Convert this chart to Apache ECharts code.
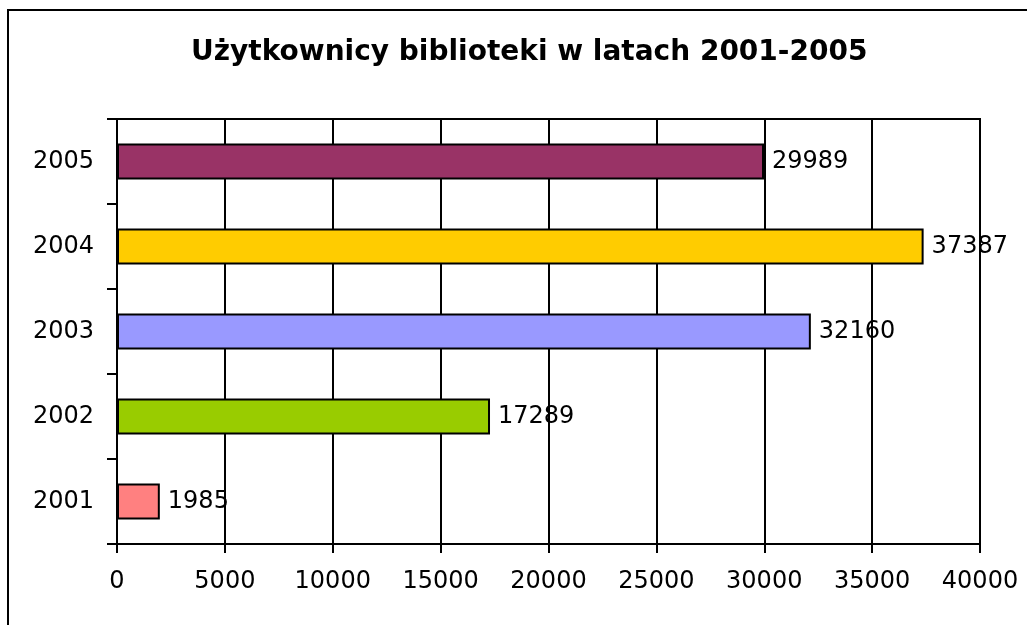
<!DOCTYPE html>
<html lang="pl">
<head>
    <meta charset="UTF-8">
    <title>Użytkownicy biblioteki</title>
    <script src="https://cdn.jsdelivr.net/npm/echarts@6/dist/echarts.min.js"></script>
    <style>
        html, body { margin: 0; padding: 0; background: #fff; }
        #main { width: 1027px; height: 625px; }
    </style>
</head>
<body>
<div id="main"></div>
<script>
    var years = ['2001', '2002', '2003', '2004', '2005'];
    var users = [1985, 17289, 32160, 37387, 29989];
    var barColors = ['#FF8080', '#99CC00', '#9999FF', '#FFCC00', '#993366'];
    var xTicks = { min: 0, max: 40000, step: 5000 };

    var chart = echarts.init(document.getElementById('main'));

    var font = 'DejaVu Sans';

    chart.setOption({
        backgroundColor: '#fff',
        animation: false,
        title: {
            text: 'Użytkownicy biblioteki w latach 2001-2005',
            left: 186,
            top: 34,
            textStyle: {
                fontFamily: font,
                fontWeight: 'bold',
                fontSize: 28,
                color: '#000'
            }
        },
        // ramka wykresu (widoczna tylko lewa i górna krawędź)
        graphic: [{
            type: 'rect',
            shape: { x: 8, y: 10, width: 1100, height: 700 },
            style: { fill: null, stroke: '#000', lineWidth: 2 },
            silent: true
        }],
        grid: {
            left: 117,
            right: 47,
            top: 119,
            bottom: 81,
            show: true,
            borderColor: '#000',
            borderWidth: 2
        },
        xAxis: {
            type: 'value',
            min: xTicks.min,
            max: xTicks.max,
            interval: xTicks.step,
            axisLine: { show: true, lineStyle: { color: '#000', width: 2 } },
            axisTick: { show: true, length: 9, lineStyle: { color: '#000', width: 2 } },
            splitLine: { show: true, lineStyle: { color: '#000', width: 2 } },
            axisLabel: {
                color: '#000',
                fontFamily: font,
                fontSize: 24,
                margin: 26,
                formatter: function (v) { return String(v); }
            }
        },
        yAxis: {
            type: 'category',
            data: years,
            axisLine: { show: true, lineStyle: { color: '#000', width: 2 } },
            axisTick: { show: true, length: 10, lineStyle: { color: '#000', width: 2 } },
            splitLine: { show: false },
            axisLabel: {
                color: '#000',
                fontFamily: font,
                fontSize: 24,
                margin: 23
            }
        },
        series: [{
            type: 'bar',
            data: users.map(function (v, i) {
                return { value: v, itemStyle: { color: barColors[i] } };
            }),
            barWidth: 36,
            itemStyle: { borderColor: '#000', borderWidth: 2 },
            label: {
                show: true,
                position: 'right',
                distance: 8,
                color: '#000',
                fontFamily: font,
                fontSize: 24
            }
        }]
    });
</script>
</body>
</html>
